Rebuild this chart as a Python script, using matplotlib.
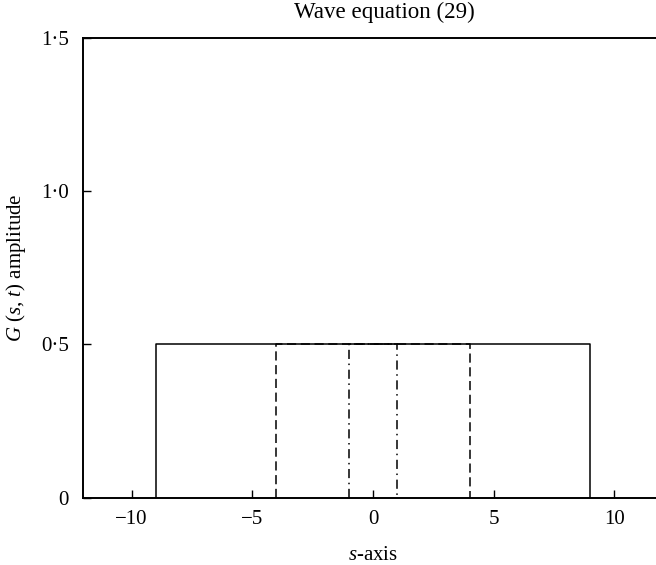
import matplotlib
matplotlib.use("Agg")
import matplotlib.pyplot as plt

# Data: rectangular pulses G(s,t) = amplitude for |s| < half-width
pulse_halfwidths = [1, 4, 9]
pulse_amplitude = 0.5
pulse_styles = [(0, (6, 3, 1, 3)), (0, (6, 3)), "solid"]

xticks = [-10, -5, 0, 5, 10]
xticklabels = ["\u221210", "\u22125", "0", "5", "10"]
yticks = [0, 0.5, 1.0, 1.5]
yticklabels = ["0", "0\u00b75", "1\u00b70", "1\u00b75"]

plt.rcParams["font.family"] = ["Liberation Serif", "DejaVu Serif"]
plt.rcParams["mathtext.fontset"] = "custom"
plt.rcParams["mathtext.rm"] = "Liberation Serif"
plt.rcParams["mathtext.it"] = "Liberation Serif:italic"

W, H = 656, 565
fig = plt.figure(figsize=(W / 100, H / 100), dpi=100)
left, right = 83.3 / W, 1.0
bottom, top = (H - 497.7) / H, (H - 37.7) / H
ax = fig.add_axes([left, bottom, right - left, top - bottom])

for hw, ls in zip(pulse_halfwidths, pulse_styles):
    xs = [-hw, -hw, hw, hw]
    ys = [0, pulse_amplitude, pulse_amplitude, 0]
    ax.plot(xs, ys, color="black", linestyle=ls, linewidth=1.1)

ax.set_xlim(-12, 11.72)
ax.set_ylim(0, 1.5)

ax.set_xticks(xticks)
ax.set_xticklabels(xticklabels)
ax.set_yticks(yticks)
ax.set_yticklabels(yticklabels)

ax.tick_params(axis="x", direction="in", length=6, width=1.0, labelsize=15, pad=9)
ax.tick_params(axis="y", direction="in", length=5.5, width=1.0, labelsize=15, pad=10.5)

for side in ["left", "bottom", "top"]:
    ax.spines[side].set_linewidth(1.4)
ax.spines["right"].set_visible(False)

ax.set_xlabel(r"$s$-axis", fontsize=15)
ax.xaxis.label.set_va("baseline")
ax.xaxis.set_label_coords((372.5 - 83.3) / (W - 83.3), (497.7 - 560) / 460)

ax.set_ylabel(r"$G$ ($s$, $t$) amplitude", fontsize=15)
ax.yaxis.label.set_va("center")
ax.yaxis.set_label_coords((16 - 83.3) / (W - 83.3), 0.5)

fig.text(384 / W, (H - 18.3) / H, "Wave equation (29)", fontsize=16.6,
         ha="center", va="baseline")

fig.savefig("out.png", dpi=100)
